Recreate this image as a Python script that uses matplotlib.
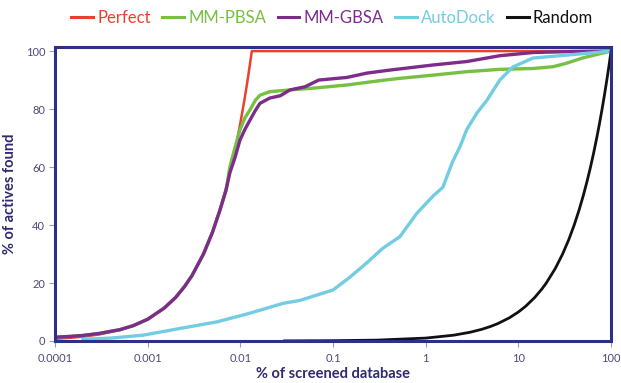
import numpy as np
import matplotlib
matplotlib.use("Agg")
import matplotlib.pyplot as plt
from matplotlib.ticker import FixedLocator, FixedFormatter, NullLocator

plt.rcParams['font.family'] = ['Lato', 'DejaVu Sans']

# --- data (x = % of screened database, y = % of actives found) ---
perfect_x = [0.0001, 0.00015, 0.0002, 0.0003, 0.0005, 0.0007, 0.001, 0.0015, 0.002, 0.0025,
             0.003, 0.004, 0.005, 0.006, 0.007, 0.008, 0.009, 0.01, 0.011, 0.012, 0.0133, 100]
perfect_y = [0.75, 1.13, 1.5, 2.26, 3.76, 5.26, 7.52, 11.3, 15.0, 18.8,
             22.6, 30.1, 37.6, 45.1, 52.6, 60.2, 67.7, 75.2, 82.7, 90.2, 100, 100]

pbsa_x = [0.0001, 0.00015, 0.0002, 0.0003, 0.0005, 0.0007, 0.001, 0.0015, 0.002, 0.0025,
          0.003, 0.004, 0.005, 0.006, 0.007, 0.0077, 0.0088, 0.0099, 0.0112, 0.0127,
          0.0145, 0.0163, 0.0208, 0.0343, 0.0607, 0.141, 0.32, 0.527, 1.2, 2.78, 6.3, 14.4,
          23.6, 33, 49, 74, 100]
pbsa_y = [1.3, 1.6, 1.9, 2.6, 3.9, 5.3, 7.5, 11.3, 15.0, 18.8,
          22.5, 30.0, 37.5, 45.0, 52.0, 60.0, 67.0, 72.8, 77.0, 79.7,
          83.0, 84.8, 86.0, 86.6, 87.2, 88.3, 89.8, 90.6, 91.7, 92.9, 93.7, 94.0,
          94.6, 95.8, 97.6, 99.0, 100]

gbsa_x = [0.0001, 0.00015, 0.0002, 0.0003, 0.0005, 0.0007, 0.001, 0.0015, 0.002, 0.0025,
          0.003, 0.004, 0.005, 0.006, 0.007, 0.0077, 0.0088, 0.0099, 0.0112, 0.0127,
          0.0145, 0.0163, 0.0208, 0.027, 0.0343, 0.05, 0.07, 0.141, 0.232, 0.4, 1.2, 2.78,
          6.3, 14.4, 33, 100]
gbsa_y = [1.3, 1.6, 1.9, 2.6, 3.9, 5.3, 7.5, 11.3, 15.0, 18.8,
          22.5, 30.0, 37.5, 45.0, 52.0, 58.0, 63.5, 69.3, 73.0, 76.2,
          79.5, 82.0, 83.8, 84.6, 86.6, 87.7, 90.0, 90.9, 92.4, 93.4, 95.2, 96.4,
          98.4, 99.5, 99.8, 100]

autodock_x = [0.0002, 0.0004, 0.00089, 0.0024, 0.0056, 0.0127, 0.029, 0.044, 0.1, 0.152,
              0.232, 0.345, 0.527, 0.8, 1.2, 1.53, 1.96, 2.34, 2.78, 3.56, 4.57, 6.3, 8.7,
              14.4, 33, 100]
autodock_y = [0.6, 1.0, 2.0, 4.5, 6.6, 9.6, 13.0, 14.0, 17.6, 22.0,
              27.0, 32.0, 36.0, 44.0, 50.0, 53.0, 62.0, 67.0, 73.0, 78.6, 83.0, 90.0, 94.5,
              97.6, 98.6, 100]

random_x = [0.03, 0.1, 0.3, 1, 2, 3, 4, 5, 6, 8, 10, 12, 15, 18, 20, 25, 30, 35, 40, 45,
            50, 55, 60, 65, 70, 75, 80, 85, 90, 95, 100]
random_y = [0.03, 0.1, 0.3, 1, 2, 3, 4, 5, 6, 8, 10, 12, 15, 18, 20, 25, 30, 35, 40, 45,
            50, 55, 60, 65, 70, 75, 80, 85, 90, 95, 100]

x_ticks = [0.0001, 0.001, 0.01, 0.1, 1, 10, 100]
x_tick_labels = ['0.0001', '0.001', '0.01', '0.1', '1', '10', '100']
y_ticks = [0, 20, 40, 60, 80, 100]

series = [
    ('Perfect', perfect_x, perfect_y, '#e8412c', 1.8),
    ('MM-PBSA', pbsa_x, pbsa_y, '#76c043', 2.4),
    ('MM-GBSA', gbsa_x, gbsa_y, '#7d2c8c', 2.4),
    ('AutoDock', autodock_x, autodock_y, '#72cde2', 2.4),
    ('Random', random_x, random_y, '#111111', 2.0),
]

navy = '#2e2f86'
label_col = '#4a4a78'

fig = plt.figure(figsize=(6.21, 3.83), dpi=100)
ax = fig.add_axes([0.0886, 0.1097, 0.8954, 0.7683])

handles = []
for name, xs, ys, col, lw in series:
    h, = ax.plot(xs, ys, color=col, lw=lw, label=name, solid_joinstyle='round')
    handles.append(h)

ax.set_xscale('log')
ax.set_xlim(0.0001, 100)
ax.set_ylim(0, 101.5)
ax.xaxis.set_major_locator(FixedLocator(x_ticks))
ax.xaxis.set_major_formatter(FixedFormatter(x_tick_labels))
ax.xaxis.set_minor_locator(NullLocator())
ax.set_yticks(y_ticks)

for sp in ax.spines.values():
    sp.set_color(navy)
    sp.set_linewidth(2.2)

ax.tick_params(axis='both', direction='out', length=4, width=0.8, color='#9a9ab8',
               labelsize=8, labelcolor=label_col, pad=3)
ax.tick_params(axis='x', pad=5)

ax.set_xlabel('% of screened database', fontsize=10.5, fontweight='bold', color='#2e2a6e', labelpad=2)
ax.set_ylabel('% of actives found', fontsize=10.5, fontweight='bold', color='#2e2a6e', labelpad=6)

leg = fig.legend(handles=handles, loc='center', bbox_to_anchor=(0.535, 0.953), ncol=5,
                 frameon=False, fontsize=12, handlelength=1.3, handletextpad=0.25,
                 columnspacing=0.7, borderaxespad=0)
for txt, (name, xs, ys, col, lw) in zip(leg.get_texts(), series):
    txt.set_color(col)
for lh in leg.get_lines():
    lh.set_linewidth(2.2)

fig.savefig('out.png', dpi=100)
